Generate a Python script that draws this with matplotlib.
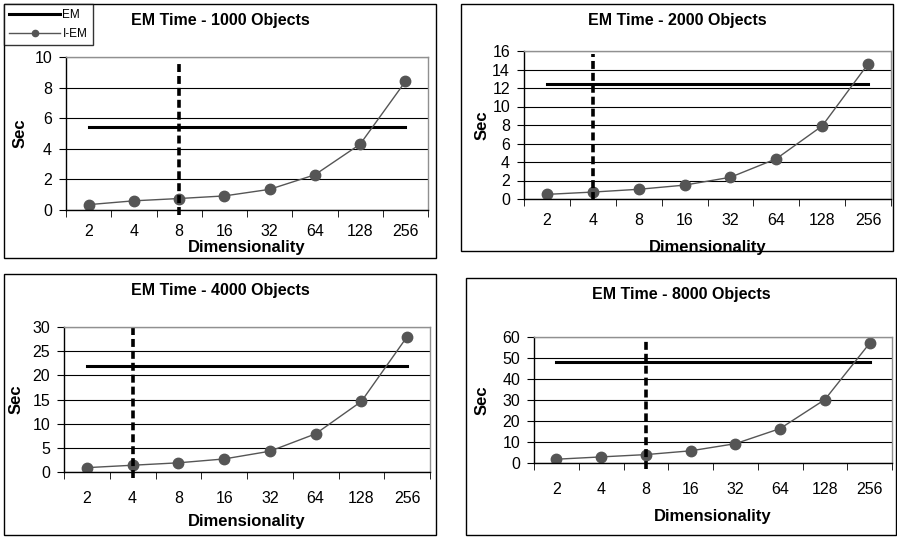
import matplotlib
matplotlib.use("Agg")
from matplotlib import pyplot as plt
from matplotlib.patches import Rectangle
from matplotlib.lines import Line2D

plt.rcParams['font.family'] = ['Liberation Sans', 'DejaVu Sans']

dims = ['2', '4', '8', '16', '32', '64', '128', '256']
titles = ['EM Time - 1000 Objects', 'EM Time - 2000 Objects',
          'EM Time - 4000 Objects', 'EM Time - 8000 Objects']
iem_1000 = [0.35, 0.6, 0.75, 0.92, 1.35, 2.3, 4.3, 8.4]
iem_2000 = [0.5, 0.75, 1.05, 1.5, 2.35, 4.35, 7.9, 14.6]
iem_4000 = [0.9, 1.4, 1.9, 2.7, 4.3, 7.9, 14.6, 28.0]
iem_8000 = [1.8, 2.9, 4.0, 5.8, 9.2, 16.4, 30.2, 57.0]
em_values = [5.4, 12.4, 22.0, 48.0]
cutoff_dim = ['8', '4', '4', '8']
y_max = [10, 16, 30, 60]
y_step = [2, 2, 5, 10]

W, H = 897, 539
fig = plt.figure(figsize=(W / 100, H / 100), dpi=100)

def fbox(x0, y0, x1, y1):
    # pixel box -> figure fraction [left, bottom, width, height]
    return [x0 / W, 1 - y1 / H, (x1 - x0) / W, (y1 - y0) / H]

# outer frame, axes box (pixels), dashed marker extent, tick pad, xlabel pad, ylabel pad
panels = [
    ((4, 4, 436, 258), (66, 57, 428, 210), (-0.03, 0.96), 10, 1, 5),
    ((461, 4, 893, 251), (524, 51, 891, 199), (-0.01, 0.98), 10, 8.5, 2),
    ((4, 274, 436, 535), (64, 327, 430, 472), (-0.04, 1.0), 13.5, 6, 6),
    ((466, 278, 896, 535), (534, 337, 892, 463), (-0.05, 0.98), 13.5, 9, 9),
]
series = [iem_1000, iem_2000, iem_4000, iem_8000]

x = list(range(len(dims)))
for i, (frame, box, vext, tpad, xpad, ypad) in enumerate(panels):
    fb = fbox(*frame)
    fig.patches.append(Rectangle((fb[0], fb[1]), fb[2], fb[3], transform=fig.transFigure,
                                 fill=False, edgecolor='black', linewidth=1.0))
    ax = fig.add_axes(fbox(*box))
    ax.set_xlim(-0.5, len(dims) - 0.5)
    ax.set_ylim(0, y_max[i])
    ax.set_yticks(range(0, y_max[i] + 1, y_step[i]))
    ax.yaxis.grid(True, color='black', linewidth=0.8)
    ax.set_axisbelow(True)
    for s in ['top', 'right']:
        ax.spines[s].set_color('#909090')
        ax.spines[s].set_linewidth(1.0)
    for s in ['left', 'bottom']:
        ax.spines[s].set_color('black')
        ax.spines[s].set_linewidth(1.0)

    ax.set_xticks(x)
    ax.set_xticklabels(dims)
    ax.set_xticks([k - 0.5 for k in range(len(dims) + 1)], minor=True)
    ax.tick_params(axis='x', which='major', length=0, pad=tpad, labelsize=11.5)
    ax.tick_params(axis='x', which='minor', length=5, direction='out', color='black')
    ax.tick_params(axis='y', length=5, direction='out', pad=5, labelsize=11.5)

    ax.plot([x[0], x[-1]], [em_values[i], em_values[i]], color='black', linewidth=2.2)
    ax.plot(x, series[i], color='#555555', linewidth=1.0, marker='o', markersize=7.5,
            markerfacecolor='#555555', markeredgecolor='#555555')
    ax.axvline(dims.index(cutoff_dim[i]), ymin=vext[0], ymax=vext[1], color='black',
               linewidth=2.6, linestyle=(0, (2.2, 1.1)), clip_on=False)

    fig.text((fb[0] + fb[2] / 2), 1 - (frame[1] + 17) / H, titles[i], ha='center',
             va='center', fontsize=11.5, fontweight='bold')
    ax.set_xlabel('Dimensionality', fontsize=12, fontweight='bold', labelpad=xpad)
    ax.set_ylabel('Sec', fontsize=12, fontweight='bold', labelpad=ypad)

handles = [Line2D([], [], color='black', linewidth=2.2),
           Line2D([], [], color='#555555', linewidth=1.0, marker='o', markersize=4.5)]
leg = fig.legend(handles, ['EM', 'I-EM'], loc='upper left',
                 bbox_to_anchor=(4 / W, 1 - 4 / H), fontsize=8.5, frameon=True,
                 fancybox=False, edgecolor='black', borderpad=0.45, handlelength=4.3,
                 handletextpad=0.2, labelspacing=0.55, borderaxespad=0)
leg.get_frame().set_linewidth(1.0)

fig.savefig('out.png', dpi=100)
